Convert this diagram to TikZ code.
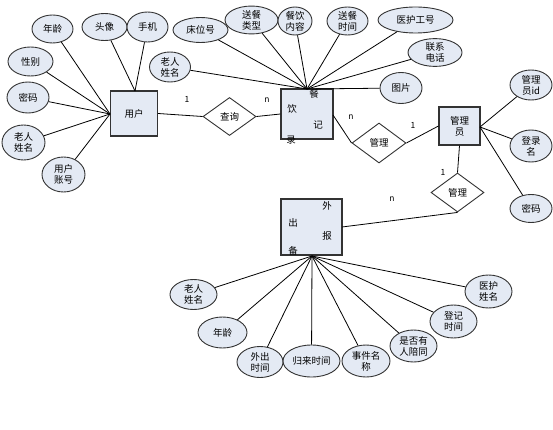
\documentclass[tikz,border=0pt]{standalone}
\usepackage{fontspec}
\setmainfont{Noto Sans CJK SC}
\usetikzlibrary{shapes.geometric}
\definecolor{fillc}{HTML}{E4EAF4}
\tikzset{
  ent/.style={draw=black!80, line width=1.1pt, fill=fillc, minimum width=#1, inner sep=0pt},
  attr/.style={ellipse, draw=black!80, line width=0.9pt, fill=fillc, inner sep=0pt, align=center, font=\fontsize{9.5}{11}\selectfont},
  rel/.style={diamond, draw=black!80, line width=0.9pt, fill=white, inner sep=0pt, font=\fontsize{9.5}{11}\selectfont, aspect=1.4},
  conn/.style={draw=black, line width=0.8pt},
  card/.style={font=\fontsize{8.5}{9}\selectfont, inner sep=0pt},
  txt/.style={font=\fontsize{9.5}{11}\selectfont, inner sep=0pt}
}
\newcommand{\attrnode}[5]{\node[attr, minimum width=#3pt, minimum height=#4pt] (#1) at (#2) {#5};}
\begin{document}
\begin{tikzpicture}[x=1pt,y=-1pt]
\useasboundingbox (0,0) rectangle (553,430);
% entities
\node[ent=47pt, minimum height=45pt, txt] (user) at (134,113.5) {用户};
\node[ent=52pt, minimum height=50pt] (rec) at (307,114) {};
\node[txt] at (314,94) {餐};
\node[txt] at (292,109) {饮};
\node[txt] at (318,125) {记};
\node[txt] at (291,140) {录};
\node[ent=41pt, minimum height=38pt, txt, align=center] (admin) at (459.5,126) {管理\\员};
\node[ent=61pt, minimum height=56pt] (out) at (311.5,227) {};
\node[txt] at (327,206) {外};
\node[txt] at (293,223) {出};
\node[txt] at (327,236) {报};
\node[txt] at (293,251) {备};
% junction points
\coordinate (uj) at (110,114);
\coordinate (rj) at (307,89);
\coordinate (aj) at (480,127);
\coordinate (oj) at (312,256);
% relationships
\node[rel, minimum width=53pt, minimum height=38pt] (q) at (229.5,116.5) {查询};
\node[rel, minimum width=54pt, minimum height=40pt] (m1) at (379,143) {管理};
\node[rel, minimum width=53pt, minimum height=39pt] (m2) at (457.5,192.5) {管理};
% user attributes
\attrnode{u1}{52.5,29}{41}{28}{年龄}
\attrnode{u2}{104.5,27}{45}{27}{头像}
\attrnode{u3}{147.5,27}{41}{30}{手机}
\attrnode{u4}{30.5,61.5}{45}{29}{性别}
\attrnode{u5}{28,97.5}{42}{31}{密码}
\attrnode{u6}{23.5,142.5}{43}{35}{老人\\姓名}
\attrnode{u7}{63.5,174.5}{43}{35}{用户\\账号}
\draw[conn] (uj) -- (u1);
\draw[conn] (uj) -- (u4);
\draw[conn] (uj) -- (u5);
\draw[conn] (uj) -- (u6);
\draw[conn] (uj) -- (u7);
\draw[conn] (135,91) -- (u2);
\draw[conn] (135,91) -- (u3);
% record attributes
\attrnode{r1}{200.5,30}{55}{25}{床位号}
\attrnode{r2}{170,67}{41}{30}{老人\\姓名}
\attrnode{r3}{251.5,20}{53}{26}{送餐\\类型}
\attrnode{r4}{295,21}{34}{28}{餐饮\\内容}
\attrnode{r5}{347.5,21}{41}{28}{送餐\\时间}
\attrnode{r6}{415.5,20}{75}{26}{医护工号}
\attrnode{r7}{435,52.5}{54}{25}{联系\\电话}
\attrnode{r8}{401,88}{42}{31}{图片}
\foreach \a in {r1,r2,r3,r4,r5,r6,r7,r8} \draw[conn] (rj) -- (\a);
% admin attributes
\attrnode{a1}{531,85}{42}{30}{管理\\员id}
\attrnode{a2}{531,146}{42}{32}{登录\\名}
\attrnode{a3}{531,208.5}{42}{28}{密码}
\foreach \a in {a1,a2,a3} \draw[conn] (aj) -- (\a);
% out attributes
\attrnode{o1}{193.5,294.5}{47}{30}{老人\\姓名}
\attrnode{o2}{222.5,332.5}{49}{31}{年龄}
\attrnode{o3}{260,362}{46}{31}{外出\\时间}
\attrnode{o4}{311.5,361}{57}{32}{归来时间}
\attrnode{o5}{366,361}{48}{32}{事件名\\称}
\attrnode{o6}{413.5,346}{47}{32}{是否有\\人陪同}
\attrnode{o7}{453.5,321.5}{47}{33}{登记\\时间}
\attrnode{o8}{488.5,291.5}{47}{33}{医护\\姓名}
\foreach \a in {o1,o2,o3,o4,o5,o6,o7,o8} \draw[conn] (oj) -- (\a);
% relationship connectors
\draw[conn] (user.east) -- (q.west);
\draw[conn] (q.east) -- (rec.west);
\draw[conn] (333,115) -- (m1.west);
\draw[conn] (m1.east) -- (admin.west);
\draw[conn] (admin.south) -- (m2.north);
\draw[conn] (m2.south) -- (342,227);
% cardinalities
\node[card] (c1) at (187,99) {1};
\node[card] (c2) at (267,100) {n};
\node[card] (c3) at (351,117) {n};
\node[card] (c4) at (413,125) {1};
\node[card] (c5) at (443,172) {1};
\node[card] (c6) at (392,199) {n};
\end{tikzpicture}
\end{document}
